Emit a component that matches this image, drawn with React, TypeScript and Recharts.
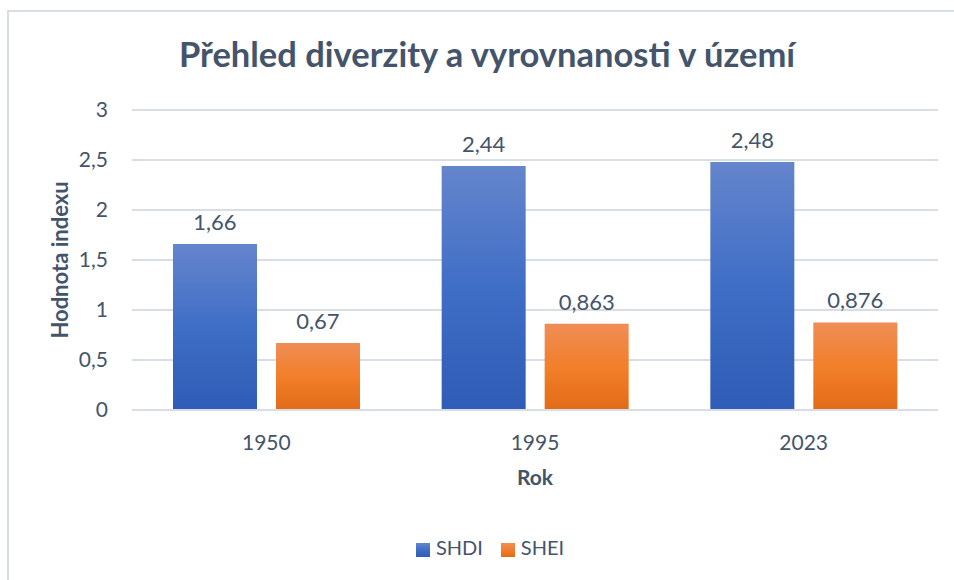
import {
    BarChart,
    Bar,
    XAxis,
    YAxis,
    CartesianGrid,
    Legend,
    LabelList,
} from 'recharts';

const years = ['1950', '1995', '2023'];
const shdi = [1.66, 2.44, 2.48];
const shei = [0.67, 0.863, 0.876];
const yTicks = [0, 0.5, 1, 1.5, 2, 2.5, 3];

const TEXT = '#44546A';
const GRID = '#D9DEE6';
const FONT = 'Lato, "Open Sans", sans-serif';

const chartData = years.map((year, i) => ({
    year,
    SHDI: shdi[i],
    SHEI: shei[i],
}));

// Czech number format: decimal comma
const fmt = (v: any) => String(v).replace('.', ',');

export default function App() {
    return (
        <div
            style={{
                position: 'absolute',
                top: 0,
                left: 0,
                width: 954,
                height: 580,
                background: '#fff',
                fontFamily: FONT,
            }}
        >
            {/* chart frame */}
            <div
                style={{
                    position: 'absolute',
                    top: 10,
                    left: 7,
                    width: 947,
                    height: 570,
                    borderTop: `2px solid ${GRID}`,
                    borderLeft: `2px solid ${GRID}`,
                    boxSizing: 'border-box',
                }}
            />
            <div
                style={{
                    position: 'absolute',
                    top: 31,
                    left: 7,
                    width: 960,
                    height: 46,
                    lineHeight: '46px',
                    textAlign: 'center',
                    fontSize: 34.5,
                    fontWeight: 700,
                    color: TEXT,
                }}
            >
                Přehled diverzity a vyrovnanosti v území
            </div>
            <BarChart
                width={954}
                height={580}
                data={chartData}
                margin={{ top: 110, right: 16, left: 0, bottom: 90 }}
                barSize={84}
                barGap={19}
                style={{ position: 'absolute', top: 0, left: 0 }}
            >
                <defs>
                    <linearGradient id="gradShdi" x1="0" y1="0" x2="0" y2="1">
                        <stop offset="0%" stopColor="#6585CC" />
                        <stop offset="50%" stopColor="#3F6EC6" />
                        <stop offset="100%" stopColor="#2E5CB6" />
                    </linearGradient>
                    <linearGradient id="gradShei" x1="0" y1="0" x2="0" y2="1">
                        <stop offset="0%" stopColor="#F08D57" />
                        <stop offset="50%" stopColor="#F27F2A" />
                        <stop offset="100%" stopColor="#E26B18" />
                    </linearGradient>
                </defs>
                <CartesianGrid vertical={false} stroke={GRID} strokeWidth={2} />
                <XAxis
                    dataKey="year"
                    height={80}
                    axisLine={{ stroke: GRID, strokeWidth: 2 }}
                    tickLine={false}
                    tickSize={0}
                    tickMargin={25}
                    tick={{ fontSize: 21, fill: TEXT, fontFamily: FONT }}
                    label={{
                        value: 'Rok',
                        position: 'insideBottom',
                        offset: 5,
                        fill: TEXT,
                        fontSize: 21,
                        fontWeight: 700,
                        fontFamily: FONT,
                    }}
                />
                <YAxis
                    width={132}
                    domain={[0, 3]}
                    ticks={yTicks}
                    axisLine={false}
                    tickLine={false}
                    tickSize={0}
                    tickMargin={24}
                    tickFormatter={fmt}
                    tick={{ fontSize: 21, fill: TEXT, fontFamily: FONT }}
                    label={{
                        value: 'Hodnota indexu',
                        angle: -90,
                        position: 'insideLeft',
                        offset: 60,
                        fill: TEXT,
                        fontSize: 22,
                        fontWeight: 700,
                        fontFamily: FONT,
                        style: { textAnchor: 'middle' },
                    }}
                />
                <Legend
                    layout="horizontal"
                    verticalAlign="middle"
                    align="center"
                    iconType="square"
                    iconSize={14}
                    wrapperStyle={{ top: 535, left: 30, fontSize: 20, fontFamily: FONT }}
                    formatter={(value: string) => (
                        <span style={{ color: TEXT, marginLeft: 2, marginRight: 8 }}>{value}</span>
                    )}
                />
                <Bar dataKey="SHDI" fill="url(#gradShdi)" isAnimationActive={false}>
                    <LabelList
                        dataKey="SHDI"
                        position="top"
                        offset={14}
                        formatter={fmt}
                        fill={TEXT}
                        fontSize={22}
                        fontFamily={FONT}
                    />
                </Bar>
                <Bar dataKey="SHEI" fill="url(#gradShei)" isAnimationActive={false}>
                    <LabelList
                        dataKey="SHEI"
                        position="top"
                        offset={14}
                        formatter={fmt}
                        fill={TEXT}
                        fontSize={22}
                        fontFamily={FONT}
                    />
                </Bar>
            </BarChart>
        </div>
    );
}
